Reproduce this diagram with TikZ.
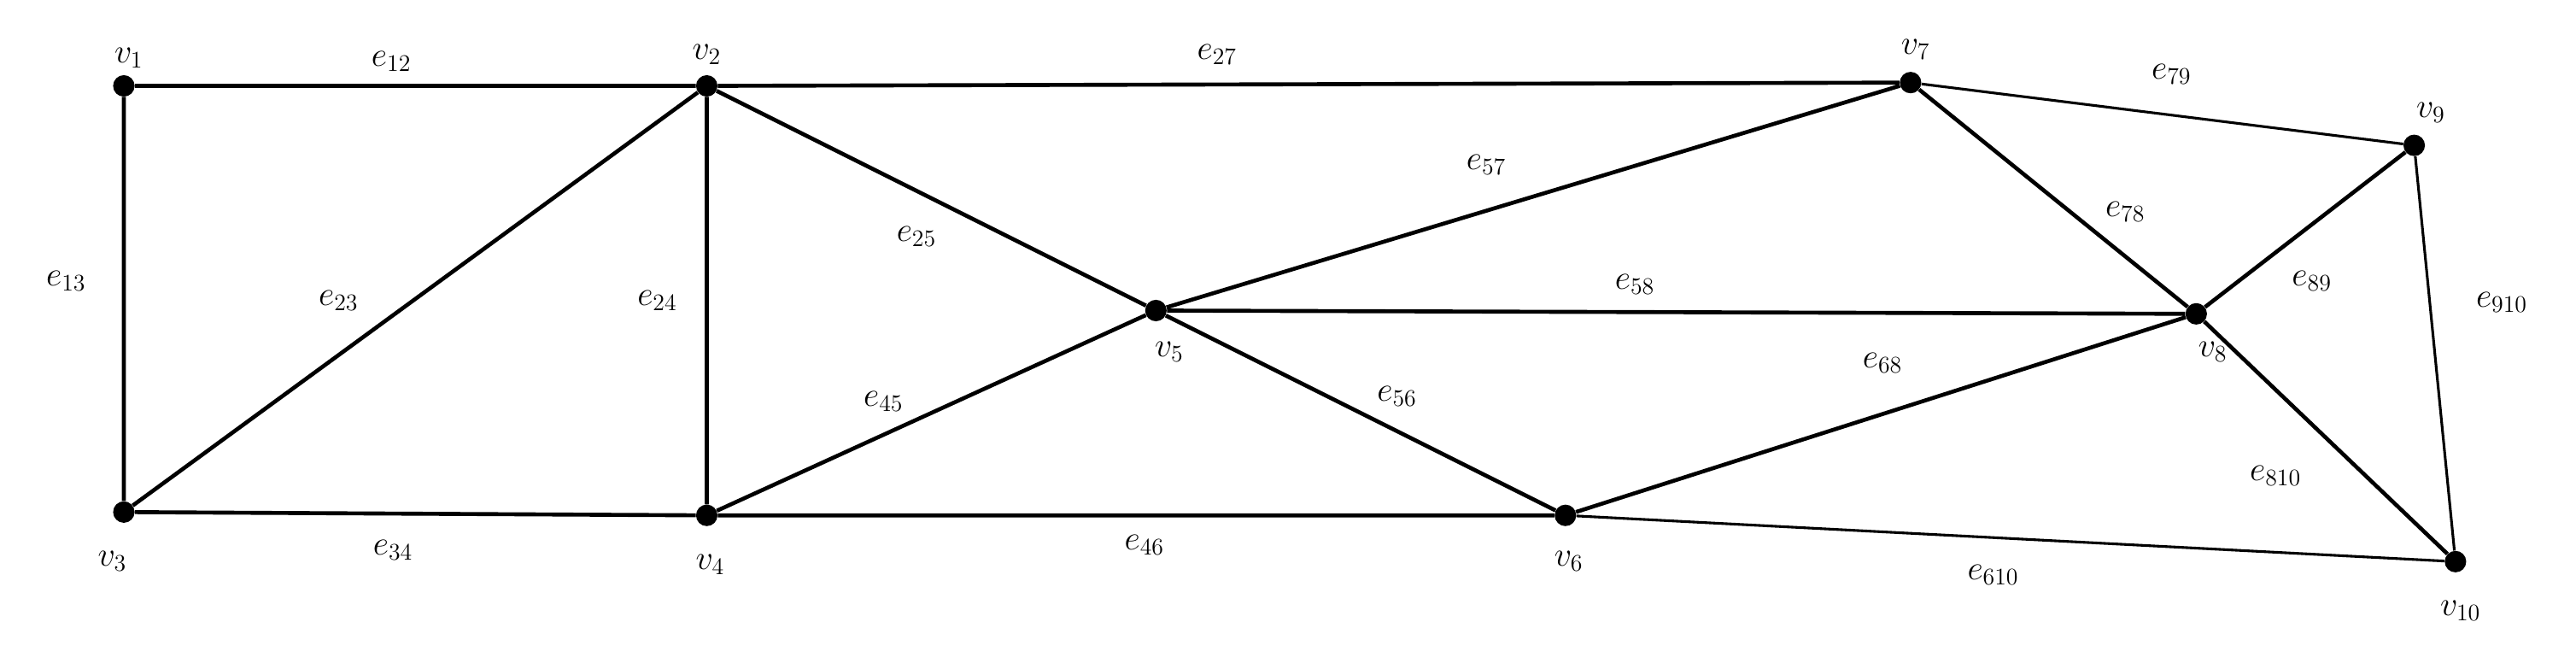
\documentclass[tikz,border=0pt]{standalone}
\begin{document}
\begin{tikzpicture}[x=1pt,y=-1pt,
  vert/.style={circle,fill=black,inner sep=0pt,minimum size=13pt},
  edge/.style={line width=2.4pt},
  thinedge/.style={line width=1.6pt},
  lab/.style={font=\fontsize{21}{24}\selectfont,inner sep=0pt}]
\useasboundingbox (0,0) rectangle (1560,401);
\node[vert] (v1) at (75,52) {};
\node[vert] (v2) at (428,52) {};
\node[vert] (v3) at (75,310) {};
\node[vert] (v4) at (428,312) {};
\node[vert] (v5) at (700,188) {};
\node[vert] (v6) at (948,312) {};
\node[vert] (v7) at (1157,50) {};
\node[vert] (v8) at (1330,190) {};
\node[vert] (v9) at (1462,88) {};
\node[vert] (v10) at (1487,340) {};
\draw[edge] (v1)--(v2) (v1)--(v3) (v2)--(v3) (v2)--(v4) (v2)--(v5) (v2)--(v7)
 (v3)--(v4) (v4)--(v5) (v4)--(v6) (v5)--(v6) (v5)--(v7) (v5)--(v8) (v6)--(v8)
 (v7)--(v8) (v8)--(v9) (v8)--(v10);
\draw[thinedge] (v7)--(v9) (v9)--(v10) (v6)--(v10);
\node[lab] (l1) at (78,35) {$v_1$};
\node[lab] (l2) at (428,33) {$v_2$};
\node[lab] (l3) at (68,340) {$v_3$};
\node[lab] (l4) at (430,342) {$v_4$};
\node[lab] (l5) at (708,213) {$v_5$};
\node[lab] (l6) at (950,340) {$v_6$};
\node[lab] (l7) at (1160,30) {$v_7$};
\node[lab] (l8) at (1340,213) {$v_8$};
\node[lab] (l9) at (1472,68) {$v_9$};
\node[lab] (l10) at (1490,370) {$v_{10}$};
\node[lab] (a12) at (237,37) {$e_{12}$};
\node[lab] (a27) at (737,33) {$e_{27}$};
\node[lab] (a79) at (1315,45) {$e_{79}$};
\node[lab] (a13) at (40,170) {$e_{13}$};
\node[lab] (a23) at (205,182) {$e_{23}$};
\node[lab] (a24) at (398,182) {$e_{24}$};
\node[lab] (a25) at (555,143) {$e_{25}$};
\node[lab] (a57) at (900,100) {$e_{57}$};
\node[lab] (a78) at (1287,128) {$e_{78}$};
\node[lab] (a89) at (1400,170) {$e_{89}$};
\node[lab] (a910) at (1515,183) {$e_{910}$};
\node[lab] (a58) at (990,172) {$e_{58}$};
\node[lab] (a45) at (535,243) {$e_{45}$};
\node[lab] (a56) at (846,240) {$e_{56}$};
\node[lab] (a68) at (1140,220) {$e_{68}$};
\node[lab] (a810) at (1378,288) {$e_{810}$};
\node[lab] (a34) at (238,333) {$e_{34}$};
\node[lab] (a46) at (693,330) {$e_{46}$};
\node[lab] (a610) at (1207,348) {$e_{610}$};
\end{tikzpicture}
\end{document}
